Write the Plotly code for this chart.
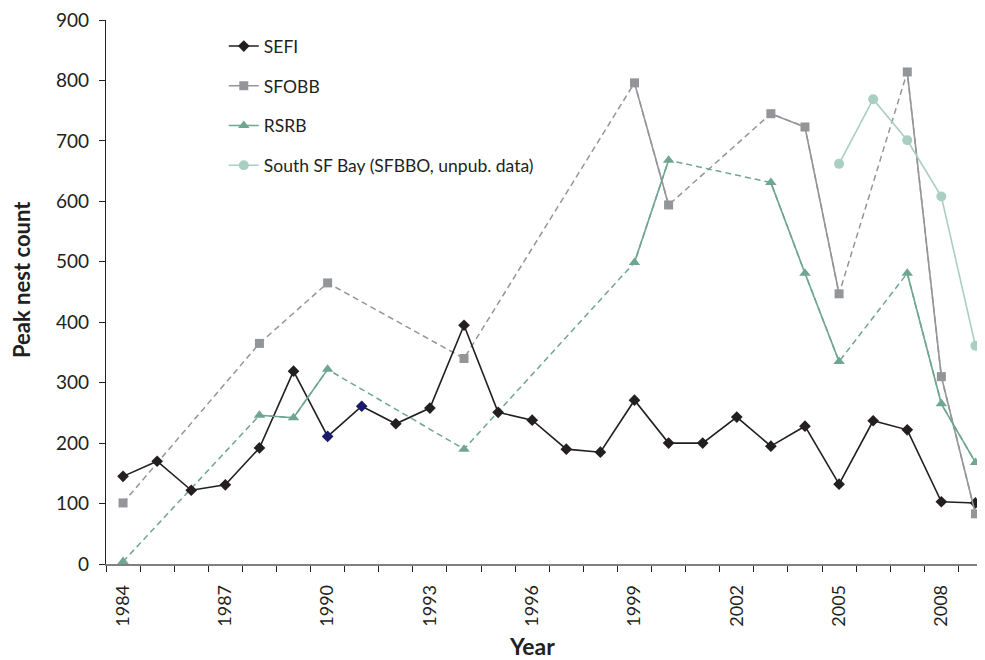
import plotly.graph_objects as go

years = list(range(1984, 2010))

sefi = [145, 170, 122, 131, 192, 319, 211, 261, 232, 258, 395, 251, 238, 190, 185,
        271, 200, 200, 243, 195, 228, 132, 237, 222, 103, 101]
sefi_marker_colors = ["#231f20"] * 6 + ["#1a1a6e", "#1a1a6e"] + ["#231f20"] * 18

sfobb_years = [1984, 1988, 1990, 1994, 1999, 2000, 2003, 2004, 2005, 2007, 2008, 2009]
sfobb_vals = [101, 365, 465, 340, 796, 594, 745, 723, 447, 814, 310, 83]

rsrb_years = [1984, 1988, 1989, 1990, 1994, 1999, 2000, 2003, 2004, 2005, 2007, 2008, 2009]
rsrb_vals = [4, 246, 242, 322, 190, 499, 668, 631, 481, 335, 481, 265, 168]

ssfb_years = [2005, 2006, 2007, 2008, 2009]
ssfb_vals = [662, 769, 701, 608, 361]

tick_years = [1984, 1987, 1990, 1993, 1996, 1999, 2002, 2005, 2008]

C_SEFI = "#231f20"
C_SFOBB = "#939598"
C_RSRB = "#6fa68f"
C_SSFB = "#a9cfc1"

FONT = "Lato"

# page body has an 8px margin; the figure is sized to compensate
W, H = 977, 652
ML, MT, MR, MB = 98, 12, 0, 96
PW = W - ML - MR
PH = H - MT - MB


def solid_series(xs, vs):
    """Values on the full year grid with None where missing (only consecutive years connect)."""
    d = dict(zip(xs, vs))
    return [d.get(y) for y in years]


fig = go.Figure()

# dashed connectors (drawn underneath)
fig.add_trace(go.Scatter(x=sfobb_years, y=sfobb_vals, mode="lines",
                         line=dict(color=C_SFOBB, width=1.5, dash="6px,4px"),
                         showlegend=False, hoverinfo="skip"))
fig.add_trace(go.Scatter(x=rsrb_years, y=rsrb_vals, mode="lines",
                         line=dict(color=C_RSRB, width=1.5, dash="6px,4px"),
                         showlegend=False, hoverinfo="skip"))

# solid series
fig.add_trace(go.Scatter(x=years, y=sefi, mode="lines+markers", name="SEFI",
                         legendgroup="a",
                         line=dict(color=C_SEFI, width=1.6),
                         marker=dict(symbol="diamond", size=9, color=sefi_marker_colors,
                                     line=dict(width=0))))
fig.add_trace(go.Scatter(x=years, y=solid_series(sfobb_years, sfobb_vals), mode="lines+markers",
                         name="SFOBB", legendgroup="b", connectgaps=False,
                         line=dict(color=C_SFOBB, width=1.6),
                         marker=dict(symbol="square", size=9, color=C_SFOBB)))
fig.add_trace(go.Scatter(x=years, y=solid_series(rsrb_years, rsrb_vals), mode="lines+markers",
                         name="RSRB", legendgroup="c", connectgaps=False,
                         line=dict(color=C_RSRB, width=1.6),
                         marker=dict(symbol="triangle-up", size=10, color=C_RSRB)))
fig.add_trace(go.Scatter(x=ssfb_years, y=ssfb_vals, mode="lines+markers",
                         name="South SF Bay (SFBBO, unpub. data)", legendgroup="d",
                         line=dict(color=C_SSFB, width=1.6),
                         marker=dict(symbol="circle", size=10, color=C_SSFB)))

fig.update_layout(
    width=W, height=H,
    margin=dict(l=ML, r=MR, t=MT, b=MB, autoexpand=False),
    paper_bgcolor="white", plot_bgcolor="white",
    font=dict(family=FONT, size=17, color="#231f20"),
    legend=dict(x=0.134, y=0.985, xanchor="left", yanchor="top",
                bgcolor="rgba(0,0,0,0)", tracegroupgap=14,
                font=dict(size=17.5), itemwidth=30),
    xaxis=dict(
        range=[1983.5, 2009.28], automargin=False,
        tickmode="array", tickvals=tick_years, ticktext=[str(t) for t in tick_years],
        tickangle=-90, ticks="", showgrid=False, zeroline=False,
        showline=True, linecolor="#808080", linewidth=1.5,
        tickfont=dict(size=18), ticklabelstandoff=12, ticklabeloverflow="allow",
        minor=dict(tick0=1983.5, dtick=1, ticks="outside", ticklen=6,
                   tickcolor="#231f20", showgrid=False),
    ),
    yaxis=dict(
        range=[0, 900], dtick=100, tick0=0, automargin=False,
        ticks="outside", ticklen=6, tickcolor="#231f20",
        showgrid=False, zeroline=False,
        showline=True, linecolor="#231f20", linewidth=1.2,
        tickfont=dict(size=19), ticklabelstandoff=6, ticklabeloverflow="allow",
    ),
    annotations=[
        dict(text="<b>Peak nest count</b>", xref="paper", yref="paper",
             x=(21 - 106) / PW, y=(564 - 280) / PH, xanchor="center", yanchor="middle",
             textangle=-90, showarrow=False, font=dict(size=22)),
        dict(text="<b>Year</b>", xref="paper", yref="paper",
             x=(532 - 106) / PW, y=-(646 - 564) / PH, xanchor="center", yanchor="middle",
             showarrow=False, font=dict(size=23)),
    ],
)

fig.write_html("out.html")
